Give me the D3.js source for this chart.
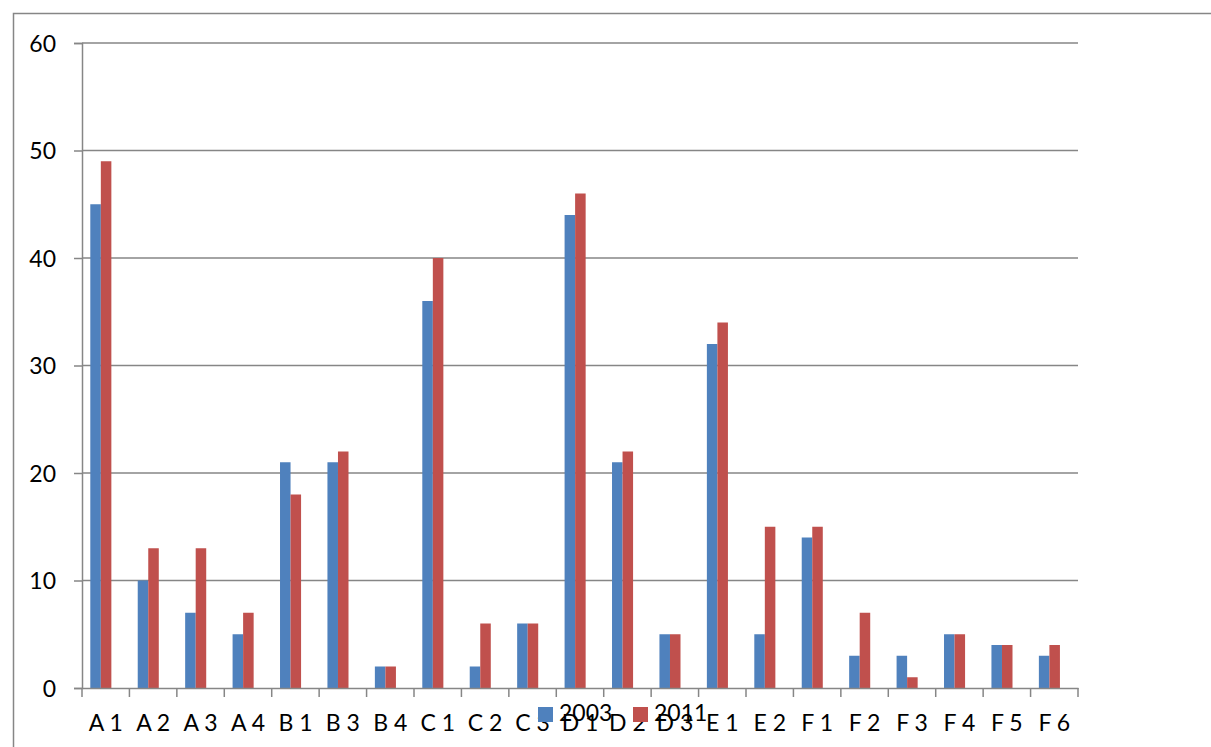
<!DOCTYPE html>
<html>
<head>
<meta charset="utf-8">
<script src="https://cdn.jsdelivr.net/npm/d3@7"></script>
<style>
  body { margin: 0; background: #fff; }
  text { font-family: Lato, "Open Sans", sans-serif; fill: #000; }
</style>
</head>
<body>
<div id="container"></div>
<script>
// data
const categories = ["A 1","A 2","A 3","A 4","B 1","B 3","B 4","C 1","C 2","C 3","D 1","D 2","D 3","E 1","E 2","F 1","F 2","F 3","F 4","F 5","F 6"]
const values2003 = [45,10,7,5,21,21,2,36,2,6,44,21,5,32,5,14,3,3,5,4,3]
const values2011 = [49,13,13,7,18,22,2,40,6,6,46,22,5,34,15,15,7,1,5,4,4]
const seriesNames = ["2003", "2011"]
const yTicks = [0,10,20,30,40,50,60]

const width = 1211, height = 747
const margin = {top: 43, left: 82, right: 133, bottom: 59}
const colors = ["#4F81BD", "#C0504D"]
const gridColor = "#868686"
const fontSize = 23

const svg = d3.select("#container").append("svg")
  .attr("width", width).attr("height", height)

// outer frame
svg.append("rect")
  .attr("x", 13.5).attr("y", 13.5)
  .attr("width", width + 20).attr("height", height + 20)
  .attr("fill", "none").attr("stroke", gridColor).attr("stroke-width", 1.5)

const x = d3.scaleBand()
  .domain(categories)
  .range([margin.left, width - margin.right])

const y = d3.scaleLinear()
  .domain([0, 60])
  .range([height - margin.bottom, margin.top])

// gridlines
svg.append("g").selectAll("line")
  .data(yTicks.filter(d => d > 0))
  .join("line")
  .attr("x1", margin.left).attr("x2", width - margin.right)
  .attr("y1", d => y(d)).attr("y2", d => y(d))
  .attr("stroke", gridColor).attr("stroke-width", 1.5)

// bars
const barW = x.bandwidth() * 0.222
const offset = x.bandwidth() * 0.175
const series = [values2003, values2011]
series.forEach((vals, si) => {
  svg.append("g").selectAll("rect")
    .data(vals)
    .join("rect")
    .attr("x", (d, i) => x(categories[i]) + offset + si * barW)
    .attr("y", d => y(d))
    .attr("width", barW)
    .attr("height", d => y(0) - y(d))
    .attr("fill", colors[si])
})

// y axis
const yAxis = d3.axisLeft(y).tickValues(yTicks).tickSize(8).tickPadding(18)
const gy = svg.append("g")
  .attr("transform", `translate(${margin.left},0)`)
  .call(yAxis)
gy.select(".domain").attr("stroke", gridColor).attr("stroke-width", 1.5)
gy.selectAll(".tick line").attr("stroke", gridColor).attr("stroke-width", 1.5)
gy.selectAll(".tick text")
  .attr("font-size", fontSize).style("font-family", "Lato, sans-serif")
  .attr("dy", "0.36em")

// x axis
const xAxis = d3.axisBottom(x).tickSize(0)
const gx = svg.append("g")
  .attr("transform", `translate(0,${y(0)})`)
  .call(xAxis)
gx.select(".domain").attr("stroke", gridColor).attr("stroke-width", 1.5)
gx.selectAll(".tick text")
  .attr("font-size", fontSize).style("font-family", "Lato, sans-serif")
  .attr("y", 43).attr("dy", 0)
gx.append("g").selectAll("line")
  .data(categories.concat(["end"]))
  .join("line")
  .attr("x1", (d, i) => i < categories.length ? x(d) : x.range()[1])
  .attr("x2", (d, i) => i < categories.length ? x(d) : x.range()[1])
  .attr("y1", 0).attr("y2", 9)
  .attr("stroke", gridColor).attr("stroke-width", 1.5)

// legend (overlaps the axis labels, as in the original)
const legend = svg.append("g").attr("transform", "translate(538,707)")
seriesNames.forEach((name, i) => {
  const g = legend.append("g").attr("transform", `translate(${i * 95},0)`)
  g.append("rect").attr("width", 15).attr("height", 15).attr("fill", colors[i])
  g.append("text").attr("x", 21).attr("y", 14).attr("font-size", fontSize).text(name)
})
</script>
</body>
</html>
